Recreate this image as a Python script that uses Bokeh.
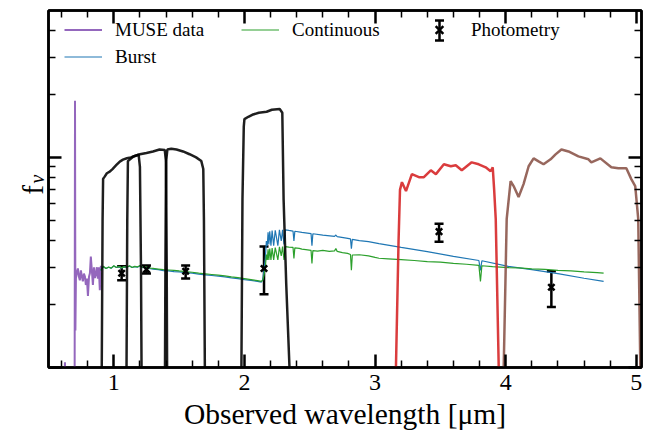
import math
from bokeh.plotting import figure
from bokeh.layouts import row
from bokeh.core.properties import value
from bokeh.models import (Range1d, FixedTicker, LinearAxis, LogAxis, CustomJSTickFormatter,
                          Legend, LegendItem, Whisker, TeeHead, ColumnDataSource)
from bokeh.embed import file_html
from bokeh.resources import INLINE

# ---------------- data ----------------
muse_x = [0.60, 0.61, 0.62, 0.626, 0.632, 0.645, 0.66, 0.675, 0.69, 0.700,
          0.703, 0.706, 0.710, 0.718, 0.725, 0.733, 0.740, 0.748, 0.756, 0.763,
          0.771, 0.779, 0.786, 0.794, 0.802, 0.810, 0.817, 0.824, 0.832, 0.840,
          0.848, 0.855, 0.863, 0.870, 0.878, 0.885, 0.893, 0.901]
muse_y = [0.05, 0.06, 0.07, 0.106, 0.06, 0.07, 0.06, 0.08, 0.07, 0.08,
          1.86, 0.15, 0.266, 0.285, 0.296, 0.27, 0.260, 0.290, 0.27, 0.257,
          0.28, 0.271, 0.247, 0.265, 0.219, 0.27, 0.281, 0.337, 0.29, 0.247,
          0.30, 0.267, 0.278, 0.30, 0.265, 0.30, 0.233, 0.305]

burst_x = [0.90, 0.92, 0.94, 0.96, 0.98, 1.00, 1.02, 1.04, 1.06, 1.08,
           1.10, 1.12, 1.14, 1.16, 1.18, 1.20, 1.22, 1.24, 1.26, 1.28,
           1.30, 1.34, 1.38, 1.42, 1.46, 1.50, 1.55, 1.60, 1.65, 1.70,
           1.75, 1.80, 1.85, 1.90, 1.95, 2.00, 2.05, 2.10, 2.13,
           2.140, 2.150, 2.160, 2.168, 2.175, 2.181, 2.187, 2.194, 2.203, 2.212,
           2.224, 2.236, 2.256, 2.268, 2.282, 2.292, 2.303, 2.313, 2.340, 2.372,
           2.379, 2.386, 2.440, 2.510, 2.517, 2.524, 2.600, 2.690, 2.700, 2.710,
           2.780, 2.812, 2.819, 2.826, 2.880, 2.950, 3.030, 3.200, 3.400, 3.600,
           3.795, 3.807, 3.818, 4.020, 4.200, 4.400, 4.600, 4.750]
burst_y = [0.290, 0.302, 0.296, 0.300, 0.297, 0.304, 0.299, 0.302, 0.298, 0.301,
           0.300, 0.304, 0.299, 0.302, 0.300, 0.304, 0.299, 0.300, 0.297, 0.295,
           0.294, 0.292, 0.289, 0.288, 0.286, 0.285, 0.283, 0.281, 0.278, 0.276,
           0.274, 0.272, 0.270, 0.267, 0.265, 0.262, 0.260, 0.257, 0.255,
           0.262, 0.290, 0.330, 0.400, 0.380, 0.440, 0.385, 0.445, 0.380, 0.448,
           0.380, 0.450, 0.380, 0.452, 0.400, 0.452, 0.385, 0.452, 0.449, 0.446,
           0.400, 0.445, 0.440, 0.434, 0.380, 0.433, 0.427, 0.421, 0.427, 0.420,
           0.413, 0.409, 0.368, 0.407, 0.402, 0.397, 0.389, 0.373, 0.356, 0.338,
           0.323, 0.290, 0.322, 0.303, 0.292, 0.280, 0.266, 0.257]

cont_x = [0.90, 0.92, 0.94, 0.96, 0.98, 1.00, 1.02, 1.04, 1.06, 1.08,
          1.10, 1.12, 1.14, 1.16, 1.18, 1.20, 1.22, 1.24, 1.26, 1.28,
          1.30, 1.34, 1.38, 1.42, 1.46, 1.50, 1.55, 1.60, 1.65, 1.70,
          1.75, 1.80, 1.85, 1.90, 1.95, 2.00, 2.05, 2.10, 2.13,
          2.140, 2.150, 2.160, 2.168, 2.175, 2.181, 2.187, 2.194, 2.203, 2.212,
          2.224, 2.236, 2.256, 2.268, 2.282, 2.292, 2.303, 2.313, 2.340, 2.372,
          2.379, 2.386, 2.420, 2.440, 2.470, 2.510, 2.517, 2.524, 2.560, 2.600,
          2.650, 2.690, 2.700, 2.710, 2.750, 2.790, 2.812, 2.819, 2.826, 2.880,
          2.950, 3.000, 3.030, 3.100, 3.200, 3.300, 3.400, 3.500, 3.600, 3.700,
          3.795, 3.807, 3.818, 3.900, 4.020, 4.100, 4.200, 4.300, 4.400, 4.500,
          4.600, 4.700, 4.750]
cont_y = [0.290, 0.303, 0.296, 0.301, 0.297, 0.305, 0.299, 0.303, 0.298, 0.302,
          0.300, 0.305, 0.299, 0.303, 0.301, 0.306, 0.300, 0.302, 0.299, 0.297,
          0.296, 0.294, 0.292, 0.291, 0.290, 0.288, 0.286, 0.284, 0.281, 0.279,
          0.277, 0.275, 0.273, 0.270, 0.268, 0.265, 0.262, 0.259, 0.257,
          0.260, 0.275, 0.300, 0.345, 0.325, 0.365, 0.325, 0.368, 0.325, 0.370,
          0.325, 0.372, 0.325, 0.375, 0.340, 0.376, 0.325, 0.376, 0.374, 0.373,
          0.330, 0.371, 0.369, 0.366, 0.364, 0.361, 0.313, 0.360, 0.358, 0.361,
          0.357, 0.359, 0.368, 0.357, 0.352, 0.349, 0.345, 0.290, 0.343, 0.344,
          0.340, 0.334, 0.331, 0.329, 0.326, 0.323, 0.319, 0.317, 0.313, 0.310,
          0.306, 0.257, 0.305, 0.302, 0.299, 0.298, 0.295, 0.293, 0.290, 0.288,
          0.285, 0.283, 0.281]

f105_x = [0.905, 0.914, 0.918, 0.930, 0.947, 0.969, 0.990, 1.020, 1.046, 1.070,
          1.100, 1.130, 1.160, 1.190, 1.200, 1.208, 1.215]
f105_y = [0.05, 0.50, 0.79, 0.81, 0.84, 0.855, 0.88, 0.92, 0.955, 0.975,
          0.99, 1.00, 1.015, 1.03, 0.90, 0.30, 0.05]
f125_x = [1.095, 1.103, 1.108, 1.150, 1.200, 1.250, 1.300, 1.350, 1.390, 1.400,
          1.405, 1.410]
f125_y = [0.05, 0.50, 0.96, 1.01, 1.035, 1.05, 1.067, 1.09, 1.085, 0.95,
          0.30, 0.05]
f160_x = [1.390, 1.395, 1.400, 1.410, 1.440, 1.480, 1.530, 1.580, 1.630, 1.670,
          1.685, 1.690, 1.700]
f160_y = [0.05, 0.30, 0.95, 1.09, 1.10, 1.09, 1.067, 1.035, 1.00, 0.96,
          0.88, 0.50, 0.05]
ks_x = [1.970, 1.977, 1.985, 1.995, 2.000, 2.030, 2.060, 2.110, 2.170, 2.210,
        2.270, 2.290, 2.300, 2.320, 2.345, 2.350]
ks_y = [0.05, 0.10, 0.63, 1.40, 1.52, 1.56, 1.595, 1.63, 1.648, 1.685,
        1.70, 1.63, 0.63, 0.25, 0.10, 0.05]
ch1_x = [3.155, 3.160, 3.180, 3.191, 3.206, 3.237, 3.282, 3.336, 3.374, 3.427,
         3.466, 3.527, 3.580, 3.618, 3.664, 3.740, 3.794, 3.847, 3.885, 3.901,
         3.912, 3.924, 3.947, 3.955]
ch1_y = [0.05, 0.10, 0.40, 0.70, 0.762, 0.691, 0.832, 0.805, 0.805, 0.868,
         0.832, 0.927, 0.907, 0.917, 0.868, 0.947, 0.927, 0.897, 0.859, 0.897,
         0.70, 0.51, 0.10, 0.05]
ch2_x = [3.980, 3.985, 4.008, 4.038, 4.061, 4.099, 4.137, 4.176, 4.214, 4.252,
         4.290, 4.344, 4.382, 4.427, 4.481, 4.557, 4.634, 4.656, 4.725, 4.809,
         4.863, 4.924, 4.962, 4.992, 5.015, 5.031, 5.040]
ch2_y = [0.05, 0.10, 0.51, 0.770, 0.730, 0.648, 0.746, 0.907, 0.989, 0.957,
         0.927, 0.979, 1.033, 1.091, 1.067, 1.011, 0.979, 0.947, 0.989, 0.897,
         0.887, 0.887, 0.788, 0.730, 0.51, 0.10, 0.05]

phot_x = [1.06, 1.25, 1.55, 2.15, 3.49, 4.35]
phot_y = [0.281, 0.293, 0.287, 0.296, 0.443, 0.241]
phot_lo = [0.260, 0.280, 0.265, 0.223, 0.397, 0.194]
phot_hi = [0.303, 0.306, 0.306, 0.377, 0.483, 0.287]

x_major = [1, 2, 3, 4, 5]
x_minor = [0.6, 0.8, 1.2, 1.4, 1.6, 1.8, 2.2, 2.4, 2.6, 2.8,
           3.2, 3.4, 3.6, 3.8, 4.2, 4.4, 4.6, 4.8]
y_major = [0.1, 1]
y_minor = [0.2, 0.3, 0.4, 0.5, 0.6, 0.7, 0.8, 0.9, 2, 3, 4]

x_title = "Observed wavelength [μm]"
y_title_main = "f"
y_title_sub = "ν"

FONT = "Liberation Serif"

# ---------------- main figure ----------------
p = figure(width=605, height=432, x_range=Range1d(0.5, 5.04), y_range=Range1d(0.1, 5.0),
           y_axis_type="log", output_backend="svg", toolbar_location=None, title=None,
           min_border_left=2, min_border_right=10, min_border_top=10, min_border_bottom=62)
p.xgrid.grid_line_color = None
p.ygrid.grid_line_color = None
p.outline_line_color = "black"
p.outline_line_width = 2.5
p.background_fill_color = "white"
p.border_fill_color = "white"

blank = CustomJSTickFormatter(code="return ''")


def style(ax, major, minor, labels):
    ax.ticker = FixedTicker(ticks=major, minor_ticks=minor)
    ax.axis_line_color = "black"
    ax.axis_line_width = 2.5
    ax.major_tick_in = 13
    ax.major_tick_out = 0
    ax.minor_tick_in = 7
    ax.minor_tick_out = 0
    ax.major_tick_line_width = 2.5
    ax.minor_tick_line_width = 1.5
    ax.major_tick_line_color = "black"
    ax.minor_tick_line_color = "black"
    if labels:
        ax.major_label_text_font = FONT
        ax.major_label_text_font_size = "24px"
        ax.major_label_text_color = "black"
        ax.major_label_standoff = 7
    else:
        ax.formatter = blank
        ax.major_label_standoff = 0
        ax.major_label_text_font_size = "1px"


style(p.xaxis[0], x_major, x_minor, True)
p.xaxis[0].axis_label = x_title
p.xaxis[0].axis_label_text_font = FONT
p.xaxis[0].axis_label_text_font_size = "29.5px"
p.xaxis[0].axis_label_text_font_style = "normal"
p.xaxis[0].axis_label_text_color = "black"
p.xaxis[0].axis_label_standoff = 5
style(p.yaxis[0], y_major, y_minor, False)
top_ax = LinearAxis()
style(top_ax, x_major, x_minor, False)
p.add_layout(top_ax, "above")
right_ax = LogAxis()
style(right_ax, y_major, y_minor, False)
p.add_layout(right_ax, "right")

# ---------------- glyphs ----------------
r_muse = p.line(muse_x, muse_y, line_color="#9467bd", line_width=2)
r_burst = p.line(burst_x, burst_y, line_color="#1f77b4", line_width=1.2)
r_cont = p.line(cont_x, cont_y, line_color="#2ca02c", line_width=1.2)

for fx, fy in [(f105_x, f105_y), (f125_x, f125_y), (f160_x, f160_y), (ks_x, ks_y)]:
    p.line(fx, fy, line_color="black", line_width=2.5, line_alpha=0.88)
p.line(ch1_x, ch1_y, line_color="#d62728", line_width=2.5, line_alpha=0.9)
p.line(ch2_x, ch2_y, line_color="#8c564b", line_width=2.5, line_alpha=0.9)

src = ColumnDataSource(dict(x=phot_x, y=phot_y, lo=phot_lo, hi=phot_hi))
p.add_layout(Whisker(source=src, base="x", lower="lo", upper="hi", dimension="height",
                     line_color="black", line_width=2.5,
                     upper_head=TeeHead(size=9, line_width=2.5, line_color="black"),
                     lower_head=TeeHead(size=9, line_width=2.5, line_color="black")))
p.scatter("x", "y", source=src, marker="x", size=9, line_width=2.5, line_color="black")

nan = float("nan")
r_ph = p.scatter([nan], [nan], marker="x", size=9, line_width=2.5, line_color="black")


# ---------------- legends ----------------
def mk_legend(items, loc):
    lg = Legend(items=items, location=loc, orientation="vertical")
    lg.border_line_color = None
    lg.background_fill_alpha = 0
    lg.padding = 0
    lg.margin = 0
    lg.spacing = 0
    lg.glyph_width = 38
    lg.glyph_height = 27
    lg.label_height = 27
    lg.label_standoff = 13
    lg.label_text_font = FONT
    lg.label_text_font_size = "19px"
    lg.label_text_color = "black"
    return lg


p.add_layout(mk_legend([LegendItem(label="MUSE data", renderers=[r_muse]),
                        LegendItem(label="Burst", renderers=[r_burst])], (16, 297)))
p.add_layout(mk_legend([LegendItem(label="Continuous", renderers=[r_cont])], (193, 324)))
p.add_layout(mk_legend([LegendItem(label="Photometry", renderers=[r_ph])], (372, 324)))
# error-bar part of the Photometry legend key
key_src = ColumnDataSource(dict(b=[391], lo=[327], hi=[347]))
p.add_layout(Whisker(source=key_src, base="b", lower="lo", upper="hi", dimension="height",
                     base_units="screen", lower_units="screen", upper_units="screen",
                     line_color="black", line_width=2.5,
                     upper_head=TeeHead(size=9, line_width=2.5, line_color="black"),
                     lower_head=TeeHead(size=9, line_width=2.5, line_color="black")))

# ---------------- y-axis title panel ----------------
# its frame spans the same rows as the main frame; y range is in page pixels from the bottom
lab = figure(width=46, height=432, x_range=Range1d(0, 46), y_range=Range1d(62, 422),
             output_backend="svg", toolbar_location=None, title=None,
             min_border_left=0, min_border_right=0, min_border_top=10, min_border_bottom=62,
             x_axis_location=None, y_axis_location=None)
lab.grid.grid_line_color = None
lab.outline_line_color = None
lab.text(x=[32], y=[241], text=[y_title_main], angle=math.pi / 2, text_font=value(FONT),
         text_font_size="29px", text_align="center", text_baseline="alphabetic",
         text_color="black")
lab.text(x=[36], y=[252], text=[y_title_sub], angle=math.pi / 2, text_font=value(FONT),
         text_font_size="20px", text_font_style="italic", text_align="center",
         text_baseline="alphabetic", text_color="black")

layout = row(lab, p)
open("out.html", "w").write(file_html(layout, INLINE))
